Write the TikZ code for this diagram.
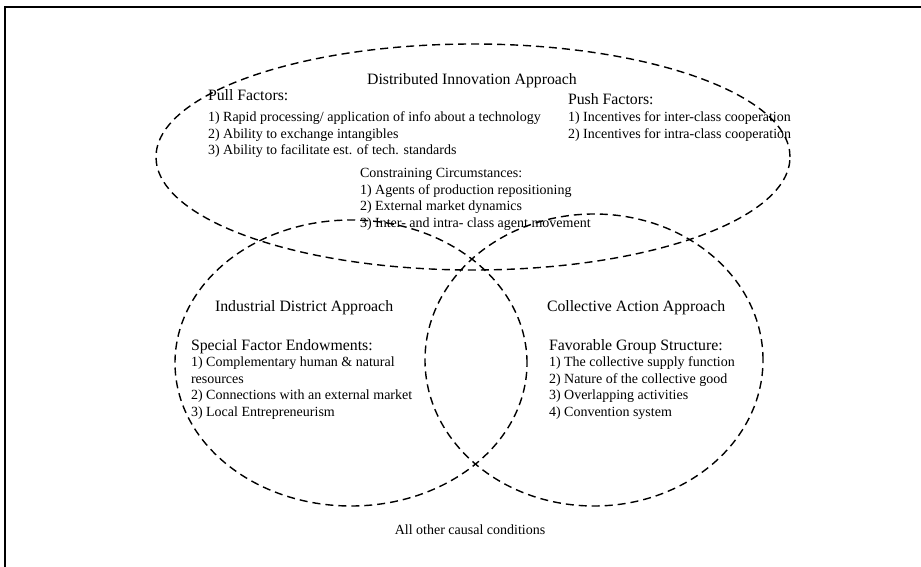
\documentclass[tikz,border=0pt]{standalone}
\usepackage{fontspec}
\setmainfont{Liberation Serif}
\usetikzlibrary{shapes.geometric}
\newcommand\itmfont{\fontsize{14}{16.7}\selectfont}
\newcommand\hdfont{\fontsize{15.8}{19}\selectfont}
\newcommand\lines[1]{\begin{tabular}[t]{@{}l@{}}#1\end{tabular}}
\tikzset{
  venn/.style={ellipse, draw=black, line width=1.4pt, dash pattern=on 8pt off 5pt, inner sep=0pt, outer sep=0pt},
  itm/.style={inner sep=0pt, outer sep=0pt, font=\itmfont, anchor=base west},
  hd/.style={inner sep=0pt, outer sep=0pt, font=\hdfont, anchor=base west},
  frame/.style={draw=black, line width=2pt}
}
\begin{document}
\begin{tikzpicture}[x=1pt, y=-1pt]
\useasboundingbox[fill=white] (0,0) rectangle (921,567);
\coordinate (fbl) at (5,600);
\coordinate (ftl) at (5,7);
\coordinate (ftr) at (960,7);
\draw[frame] (fbl) -- (ftl) -- (ftr);

\node[venn, minimum width=634pt, minimum height=226pt] (dia) at (473,157) {};
\node[venn, minimum width=352pt, minimum height=286pt] (ida) at (351,363) {};
\node[venn, minimum width=338pt, minimum height=292pt] (caa) at (594,360) {};

\node[hd, anchor=base] (diat) at (472,85) {Distributed Innovation Approach};
\node[hd] (pullh) at (208,101) {Pull Factors:};
\node[itm] (pulli) at (208,121.5) {\lines{1) Rapid processing/ application of info about a technology\\
2) Ability to exchange intangibles\\
3) Ability to facilitate est. of tech. standards}};
\node[hd] (pushh) at (568,105) {Push Factors:};
\node[itm] (pushi) at (568,121.5) {\lines{1) Incentives for inter-class cooperation\\
2) Incentives for intra-class cooperation}};
\node[itm] (cons) at (360,177.5) {\lines{Constraining Circumstances:\\
1) Agents of production repositioning\\
2) External market dynamics\\
3) Inter- and intra- class agent movement}};

\node[hd] (idat) at (215,311) {Industrial District Approach};
\node[hd] (sfeh) at (191,350) {Special Factor Endowments:};
\node[itm] (sfei) at (191,366.5) {\lines{1) Complementary human \& natural\\
resources\\
2) Connections with an external market\\
3) Local Entrepreneurism}};

\node[hd] (caat) at (547,311) {Collective Action Approach};
\node[hd] (fgsh) at (549,350) {Favorable Group Structure:};
\node[itm] (fgsi) at (549,366.5) {\lines{1) The collective supply function\\
2) Nature of the collective good\\
3) Overlapping activities\\
4) Convention system}};

\node[itm, anchor=base] (other) at (470,534.5) {All other causal conditions};
\end{tikzpicture}
\end{document}
